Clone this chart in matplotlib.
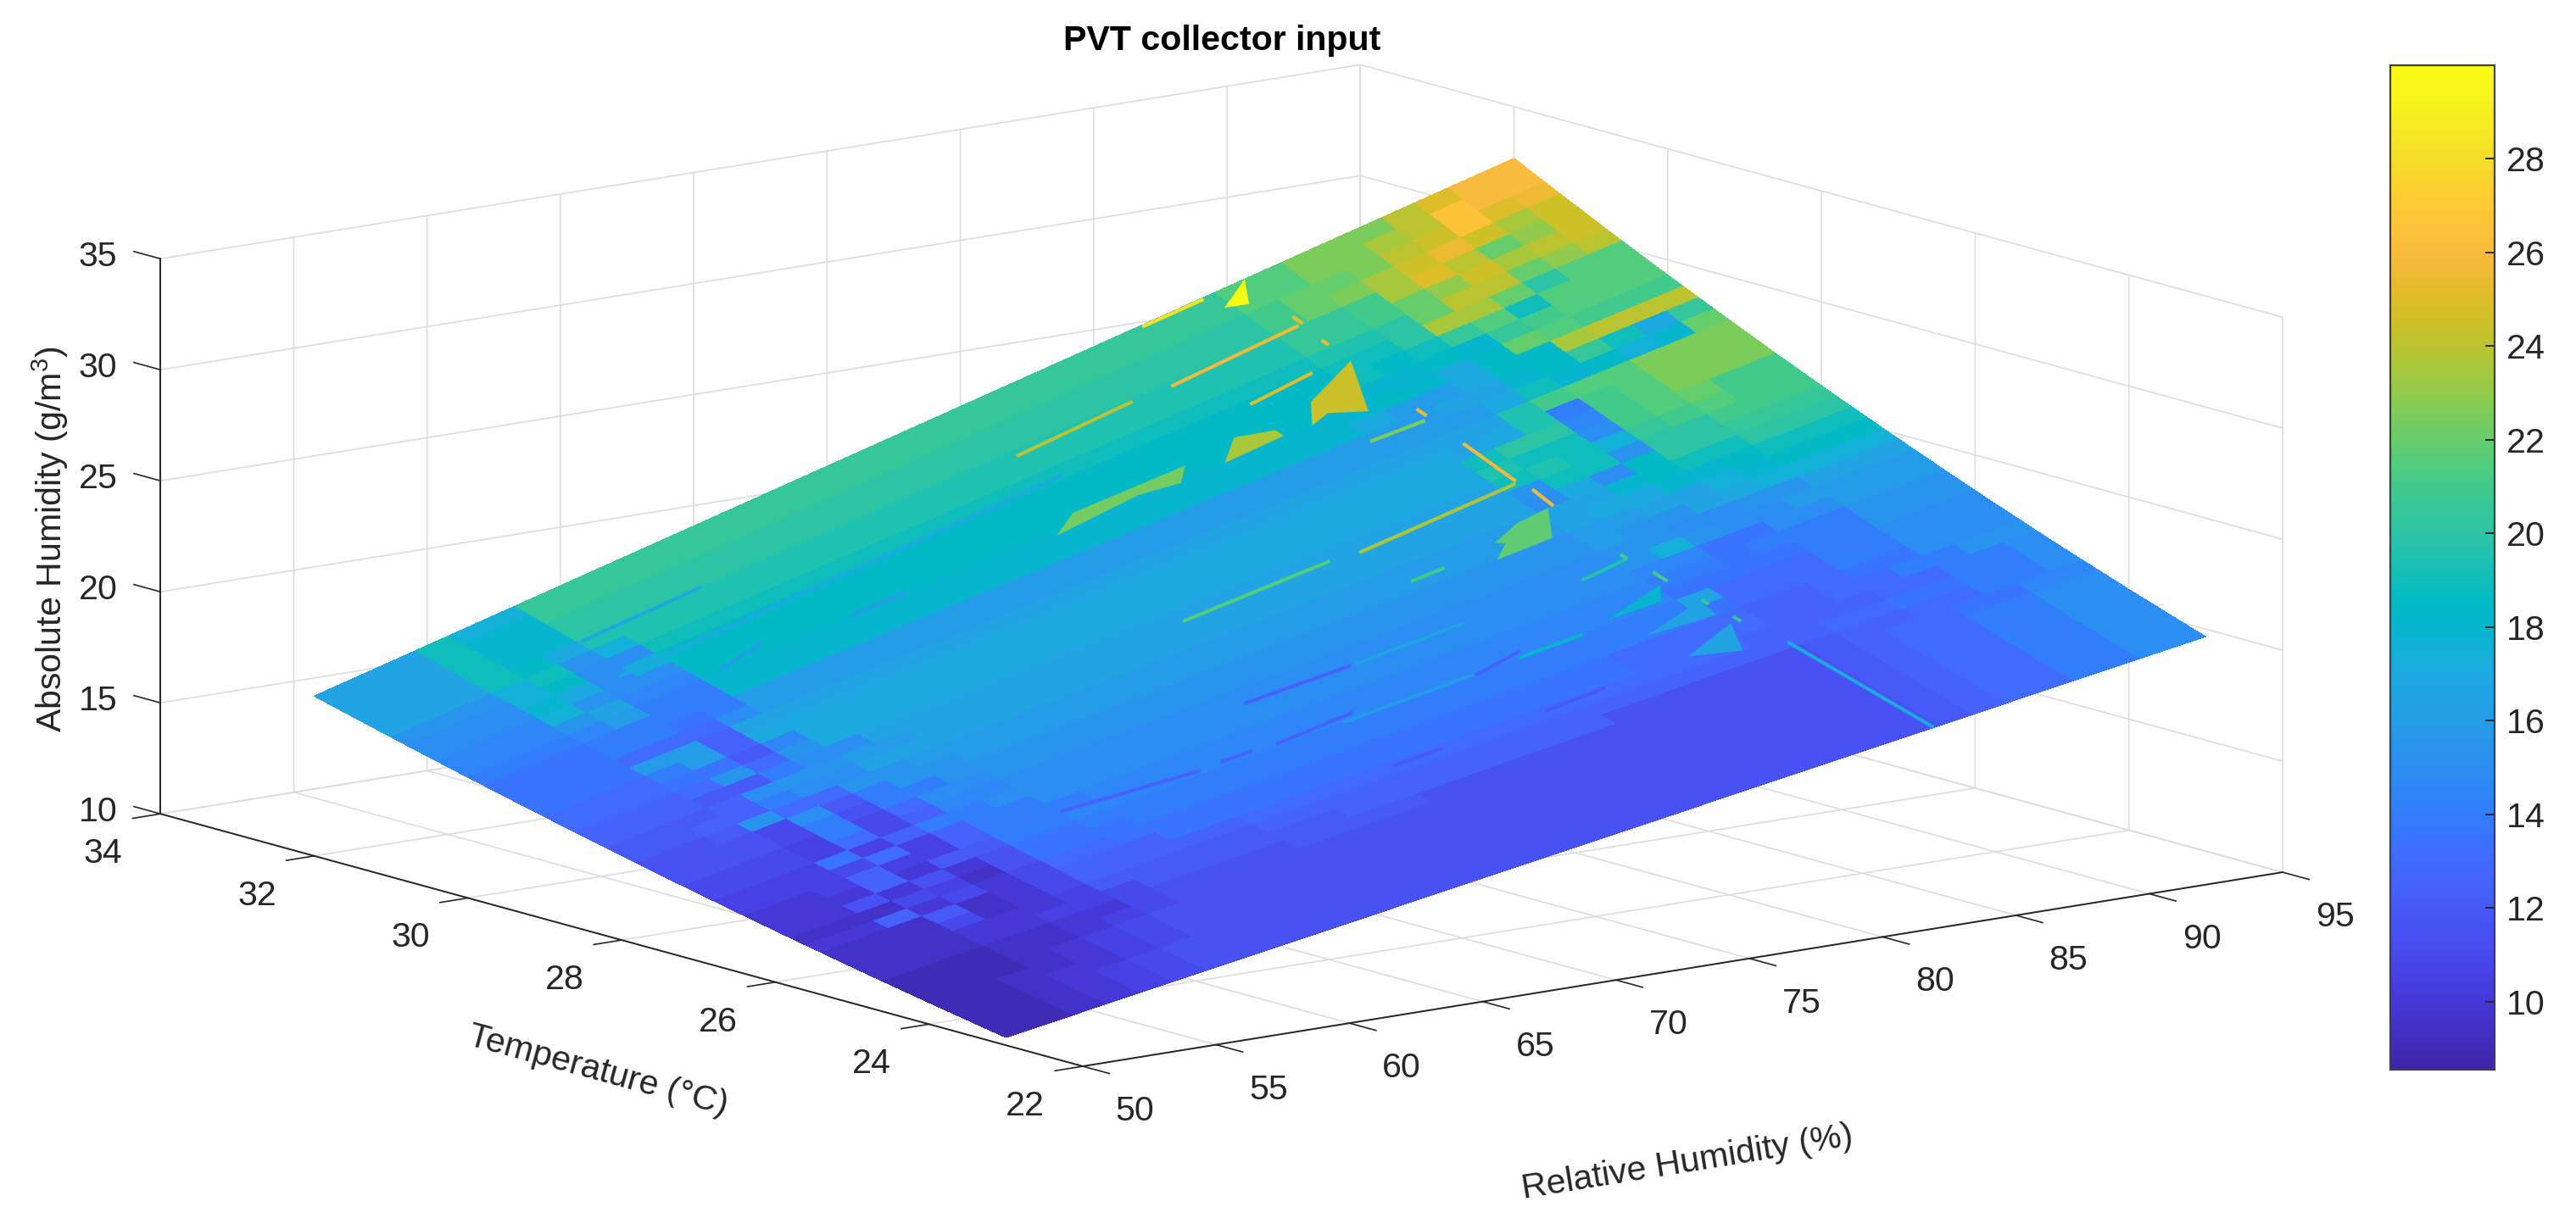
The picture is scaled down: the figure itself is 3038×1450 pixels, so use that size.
import numpy as np
import matplotlib
matplotlib.use("Agg")
import matplotlib.pyplot as plt
from matplotlib.cm import ScalarMappable
from matplotlib.colors import LinearSegmentedColormap, Normalize
from mpl_toolkits.mplot3d import proj3d
from mpl_toolkits.mplot3d.art3d import Poly3DCollection

plt.rcParams['font.family'] = ['Liberation Sans', 'DejaVu Sans']
plt.rcParams['mathtext.fontset'] = 'custom'
plt.rcParams['mathtext.rm'] = 'Liberation Sans'

# axis ticks
RH_TICKS = [50, 55, 60, 65, 70, 75, 80, 85, 90, 95]
TEMP_TICKS = [22, 24, 26, 28, 30, 32, 34]
AH_TICKS = [10, 15, 20, 25, 30, 35]
CBAR_TICKS = [10, 12, 14, 16, 18, 20, 22, 24, 26, 28]

# temperature rows of the surface, 23 to 32 C every 0.2
TEMP_NODES = [23.0, 23.2, 23.4, 23.6, 23.8, 24.0, 24.2, 24.4, 24.6, 24.8, 25.0, 25.2,
              25.4, 25.6, 25.8, 26.0, 26.2, 26.4, 26.6, 26.8, 27.0, 27.2, 27.4, 27.6,
              27.8, 28.0, 28.2, 28.4, 28.6, 28.8, 29.0, 29.2, 29.4, 29.6, 29.8, 30.0,
              30.2, 30.4, 30.6, 30.8, 31.0, 31.2, 31.4, 31.6, 31.8, 32.0]
# absolute humidity at saturation, per temperature row
AH_AT_SATURATION = [20.70, 20.94, 21.19, 21.44, 21.69, 21.94, 22.20, 22.46, 22.72, 22.98,
                    23.25, 23.52, 23.80, 24.07, 24.35, 24.63, 24.92, 25.21, 25.50, 25.79,
                    26.09, 26.38, 26.69, 26.99, 27.30, 27.61, 27.92, 28.24, 28.55, 28.88,
                    29.20, 29.53, 29.86, 30.19, 30.53, 30.86, 31.20, 31.55, 31.89, 32.24,
                    32.60, 32.95, 33.31, 33.67, 34.03, 34.40]
# relative humidity columns, 50 to 95 % every 1.25
RH_NODES = [50.0, 51.25, 52.5, 53.75, 55.0, 56.25, 57.5, 58.75, 60.0, 61.25, 62.5, 63.75,
            65.0, 66.25, 67.5, 68.75, 70.0, 71.25, 72.5, 73.75, 75.0, 76.25, 77.5, 78.75,
            80.0, 81.25, 82.5, 83.75, 85.0, 86.25, 87.5, 88.75, 90.0, 91.25, 92.5, 93.75, 95.0]

# colour value of each surface cell, one string per temperature row (coolest first)
# letter = value from 9 in steps of 0.5, number = column where that value stops
LEVELS = "abcdefghijklmnopqrstuvwxyzABCDEFGHIJKLMNOPQ"
COLOR_ROWS = [
    "a2 b3 c4 d5 e6 f28 g29 h30 i32 k34 m36",
    "a2 b3 c4 d5 e6 f28 g29 h30 i32 k34 m36",
    "a2 b3 c4 d5 e6 f28 g29 h30 i32 k34 m36",
    "a2 b3 c5 d6 e7 f28 g29 h30 i32 k34 m36",
    "a2 b4 c5 d6 e7 f28 g29 h30 i32 k34 m36",
    "a3 b4 c5 d6 e7 f28 g29 h30 i32 k34 m36",
    "a3 b5 c6 d7 e8 f28 g29 h30 i32 k34 m36",
    "a3 b5 c7 e8 f12 g16 f28 g29 h30 i32 j34 l36",
    "b3 c5 d7 e8 g14 h22 f28 g29 h31 i33 k35 m36",
    "b3 c6 d7 g12 h27 h29 i31 j33 k35 m36",
    "b3 e4 b5 c6 e7 h12 i27 h29 h31 i33 k35 m36",
    "b3 g4 b5 c6 e7 h10 j24 i27 i28 h30 i32 k34 n36",
    "c2 h3 c4 e5 c6 e7 i9 j24 i27 i28 h30 i31 j33 m36",
    "b3 e4 d5 b6 f7 j10 k27 j28 i29 i31 k33 m36",
    "c2 f3 c4 f5 c6 f7 j9 k27 p28 i29 i31 k33 m36",
    "c3 h4 c5 g7 k9 l27 j29 j31 k33 n36",
    "c2 d3 h4 d6 h7 k10 l27 k29 j30 k33 n36",
    "d3 e4 i5 d6 h7 k9 m27 l29 j31 m33 o36",
    "d3 j4 d5 h6 k8 m27 n28 r29 n30 m32 o36",
    "e3 d4 i5 e6 h7 l9 m27 n29 m31 n33 p36",
    "e3 d4 k5 e6 i7 m9 n27 o28 n30 p31 q32 r36",
    "f3 e4 k5 f6 k8 n27 o29 p31 r32 s33 t36",
    "f3 e4 m5 g6 k7 n9 o27 p28 q30 s32 t33 u36",
    "f2 g3 n4 i6 n8 o27 p29 s30 t31 u33 w36",
    "g2 h4 k5 m7 p27 m28 q29 m30 t31 w33 x36",
    "g3 h4 m5 n7 o9 p27 n28 u30 n31 w33 y36",
    "h3 g5 k6 m8 p27 u28 v29 u30 r31 x32 y33 z34 y36",
    "h3 i4 n5 i6 n7 q27 v28 u30 m31 y32 z33 A34 y36",
    "i3 j5 g6 l7 q27 u28 w30 l31 y32 z33 B36",
    "i3 k4 o5 h6 q27 p28 q29 v30 k31 y32 z33 B36",
    "j3 o5 h6 p27 p29 v30 y31 z33 B36",
    "j3 i6 m7 o27 o29 q30 u31 s32 t33 r34 s35 A36",
    "j3 k5 j6 k7 o28 p30 s31 t32 x33 u34 q35 x36",
    "j3 k7 s26 q27 o29 q30 t32 D33 E36",
    "k3 l4 o5 k7 s27 t28 s29 q30 t31 A32 z33 y36",
    "l3 n4 p5 l7 t27 s29 t30 s31 x32 y33 z36",
    "l3 r4 n5 m7 t27 u28 t29 u30 x31 z32 u33 z36",
    "m3 s4 q5 m6 r7 t27 u29 w30 D32 A33 w34 z36",
    "m3 r4 t5 m7 u27 v29 w30 A31 E33 A34 C35 E36",
    "n3 r4 u5 n6 r7 v27 x29 y30 A31 C32 F33 D34 E35 F36",
    "p3 u4 t5 q6 v27 x29 y30 D31 G32 E33 A34 C35 F36",
    "p3 u4 s6 w27 y28 A29 B30 D31 F32 H33 F34 D35 F36",
    "p3 u4 s6 w27 y28 A30 B31 E32 F33 J34 G35 H36",
    "p3 u4 s6 x27 z29 B31 D32 E33 J34 I36",
    "p3 u4 r6 x27 z29 B32 E33 G34 I36",
]

# isolated patches on the surface: relative humidity, temperature, value
PATCH_RH = [[84.7, 83.4, 82.4, 81.6, 82.4],
            [80.6, 80.6, 78.3, 79.4],
            [77.3, 76.6, 75.2, 71.9, 73.1],
            [84.2, 83.2, 81.1, 81.9, 81.7, 82.9],
            [84.9, 83.5, 84.2],
            [81.4, 84.0, 83.4],
            [81.7, 84.3, 84.2],
            [81.9, 84.2, 83.4]]
PATCH_TEMP = [[30.55, 29.87, 30.05, 29.98, 30.27],
              [30.11, 30.0, 29.97, 30.23],
              [30.14, 29.95, 30.02, 29.94, 30.14],
              [27.81, 27.41, 27.4, 27.57, 27.63, 27.77],
              [32.0, 31.78, 31.7],
              [26.07, 26.28, 26.06],
              [25.67, 25.88, 25.61],
              [25.19, 25.43, 25.0]]
PATCH_VALUE = [24.4, 23.6, 22.3, 21.8, 30.0, 18.0, 16.5, 16.5]

# thin streaks on the surface: start and end, value
STREAK_RH = [(73.8, 78.3), (79.7, 84.65), (80.9, 83.4), (78.2, 84.3), (71.6, 77.2), (84.5, 84.4),
             (84.5, 84.4), (82.4, 84.4), (82.3, 84.2), (84.3, 84.3), (84.2, 84.2), (84.5, 84.5),
             (84.4, 84.4), (84.8, 84.8), (84.8, 84.8), (84.7, 84.7), (84.6, 84.6), (81.0, 83.3),
             (69.8, 73.7), (68.9, 71.9), (76.2, 78.2), (73.9, 77.9), (77.9, 80.3), (71.3, 76.2),
             (61.3, 66.1), (66.9, 68.1), (70.7, 72.5), (76.4, 78.7), (78.3, 79.6), (64.4, 66.5),
             (59.5, 61.5), (57.6, 62.2), (57.1, 74.2)]
STREAK_TEMP = [(31.12, 31.17), (31.15, 31.21), (30.54, 30.6), (28.18, 28.27), (28.19, 28.22), (29.02, 28.3),
               (28.12, 27.81), (29.5, 29.48), (26.72, 26.78), (26.48, 26.29), (26.87, 26.78), (25.51, 25.4),
               (25.88, 25.79), (23.0, 24.9), (31.34, 31.21), (30.93, 30.84), (29.66, 29.53), (31.98, 31.98),
               (26.77, 26.74), (26.04, 26.09), (25.98, 26.09), (26.74, 26.74), (26.0, 26.0), (26.0, 26.0),
               (26.21, 26.06), (26.07, 26.07), (25.13, 25.13), (25.14, 25.16), (27.55, 27.56), (30.02, 30.02),
               (30.02, 30.15), (31.17, 31.2), (30.5, 30.65)]
STREAK_VALUE = [24.0, 25.7, 25.0, 23.7, 21.5, 25.7, 25.7, 22.5, 19.5, 21.0, 21.0, 20.0,
                20.5, 17.0, 25.5, 25.5, 25.5, 28.0, 12.5, 12.5, 12.5, 16.5, 18.0, 16.0,
                12.5, 12.5, 12.0, 12.0, 21.0, 16.0, 16.0, 17.0, 17.0]

PARULA = [(0.2422, 0.1504, 0.6603), (0.2578, 0.1818, 0.7511), (0.2706, 0.2147, 0.8364),
          (0.2783, 0.2559, 0.8991), (0.2813, 0.3006, 0.9414), (0.2795, 0.3447, 0.9717),
          (0.2699, 0.3892, 0.9906), (0.2440, 0.4358, 0.9988), (0.1963, 0.4847, 0.9892),
          (0.1786, 0.5289, 0.9682), (0.1687, 0.5703, 0.9359), (0.1460, 0.6091, 0.9079),
          (0.1248, 0.6459, 0.8883), (0.0952, 0.6798, 0.8598), (0.0297, 0.7082, 0.8163),
          (0.0067, 0.7312, 0.7660), (0.0964, 0.7500, 0.7120), (0.1717, 0.7670, 0.6554),
          (0.2161, 0.7843, 0.5923), (0.2906, 0.7973, 0.5188), (0.3909, 0.8029, 0.4354),
          (0.5044, 0.7993, 0.3480), (0.6174, 0.7876, 0.2612), (0.7242, 0.7698, 0.1910),
          (0.8203, 0.7498, 0.1535), (0.9035, 0.7330, 0.1774), (0.9728, 0.7298, 0.2394),
          (0.9970, 0.7659, 0.2199), (0.9892, 0.8136, 0.1885), (0.9676, 0.8639, 0.1643),
          (0.9597, 0.9135, 0.1423), (0.9691, 0.9606, 0.1064), (0.9769, 0.9839, 0.0805)]

W, H = 3038, 1450
TEXT_COLOR = '#262626'
GRID_COLOR = '#dddddd'
FONT_SIZE = 14.8


def decode_row(row):
    cells = []
    start = 0
    for token in row.split():
        stop = int(token[1:])
        cells += [9 + 0.5 * LEVELS.index(token[0])] * (stop - start)
        start = stop
    return cells


def surface_height(rh, temp):
    return np.interp(temp, TEMP_NODES, AH_AT_SATURATION) * np.asarray(rh) / 100


parula = LinearSegmentedColormap.from_list('parula', PARULA, N=256)
norm = Normalize(8.55, 30.0)

rh_grid, temp_grid = np.meshgrid(RH_NODES, TEMP_NODES)
ah_grid = np.outer(AH_AT_SATURATION, RH_NODES) / 100
cell_values = np.array([decode_row(r) for r in COLOR_ROWS])

fig = plt.figure(figsize=(W / 200, H / 200), dpi=200, facecolor='white')
ax = fig.add_axes([0, 0, 1, 1], projection='3d', computed_zorder=False, proj_type='ortho')
ax.view_init(elev=12.15, azim=-127.55)
ax.set_box_aspect((1785, 1785, 670))
ax.set_xlim(50, 95, view_margin=0)
ax.set_ylim(22, 34, view_margin=0)
ax.set_zlim(10, 35, view_margin=0)
ax.patch.set_alpha(0)

ax.plot_surface(rh_grid, temp_grid, ah_grid, facecolors=parula(norm(cell_values)), rstride=1, cstride=1,
                linewidth=0, antialiased=False, shade=False, zorder=2)

for rh, temp, value in zip(PATCH_RH, PATCH_TEMP, PATCH_VALUE):
    poly = Poly3DCollection([list(zip(rh, temp, surface_height(rh, temp)))], facecolors=[parula(norm(value))],
                            linewidths=0, zorder=3)
    ax.add_collection3d(poly)

for rh, temp, value in zip(STREAK_RH, STREAK_TEMP, STREAK_VALUE):
    ax.plot(rh, temp, surface_height(rh, temp), color=parula(norm(value)), lw=1.5, zorder=4,
            solid_capstyle='butt')

ax.set_xticks(RH_TICKS)
ax.set_yticks(TEMP_TICKS)
ax.set_zticks(AH_TICKS)
ax.tick_params(axis='both', labelsize=FONT_SIZE, labelcolor=TEXT_COLOR, colors=TEXT_COLOR)
ax.tick_params(axis='x', pad=9)
ax.tick_params(axis='y', pad=7)
ax.tick_params(axis='z', pad=6)

# z ticks point along the temperature axis in the reference
ax.zaxis._get_tickdir = lambda position: 1

# x and y ticks stick out of the box, so they go against mplot3d's sign
for axis, factor in ((ax.xaxis, -0.36), (ax.yaxis, -0.29), (ax.zaxis, 0.36)):
    axis.set_pane_color((1, 1, 1, 0))
    axis.pane.set_edgecolor(GRID_COLOR)
    axis.pane.set_linewidth(0.6)
    axis.line.set_color(TEXT_COLOR)
    axis.line.set_linewidth(0.7)
    axis._axinfo['grid'].update(color=GRID_COLOR, linewidth=0.6)
    axis._axinfo['tick'].update(inward_factor=0, outward_factor=factor, linewidth={True: 0.6, False: 0.6},
                                color=TEXT_COLOR)

for tick in ax.xaxis.get_major_ticks():
    tick.label1.set_ha('left')
for tick in ax.yaxis.get_major_ticks():
    tick.label1.set_ha('right')
for tick in ax.zaxis.get_major_ticks():
    tick.label1.set_va('center')


def place(cx, cy, size):
    ax.set_position([(cx - size / 2) / W, (cy - size / 2) / H, size / W, size / H])
    fig.canvas.draw()


def to_pixel(x, y, z):
    px, py, _ = proj3d.proj_transform(x, y, z, ax.get_proj())
    return ax.transData.transform((px, py))


# size and shift the 3d box so its floor corners land where the reference has them
size = 3000
place(W / 2, H / 2, size)
size *= 1415 / (to_pixel(95, 22, 10)[0] - to_pixel(50, 22, 10)[0])
place(W / 2, H / 2, size)
corner = to_pixel(50, 22, 10)
place(W / 2 + 1277 - corner[0], H / 2 + (H - 1258) - corner[1], size)

fig.text(1441 / W, 1 - 48 / H, 'PVT collector input', ha='center', va='center', fontsize=FONT_SIZE,
         fontweight='bold', color='black')
fig.text(1990 / W, 1 - 1372 / H, 'Relative Humidity (%)', ha='center', va='center', rotation=9.2,
         rotation_mode='anchor', fontsize=FONT_SIZE, color=TEXT_COLOR)
fig.text(705 / W, 1 - 1263 / H, 'Temperature (°C)', ha='center', va='center', rotation=-15.3,
         rotation_mode='anchor', fontsize=FONT_SIZE, color=TEXT_COLOR)
fig.text(59 / W, 1 - 636 / H, r'Absolute Humidity (g/m$^{3}$)', ha='center', va='center', rotation=90,
         rotation_mode='anchor', fontsize=FONT_SIZE, color=TEXT_COLOR)

cax = fig.add_axes([2819 / W, 1 - 1262 / H, 123 / W, 1185 / H])
bar = fig.colorbar(ScalarMappable(norm=norm, cmap=parula), cax=cax)
bar.set_ticks(CBAR_TICKS)
bar.ax.tick_params(direction='in', length=4, width=0.7, labelsize=FONT_SIZE, labelcolor=TEXT_COLOR,
                   color=TEXT_COLOR, pad=5)
bar.outline.set_linewidth(0.8)
bar.outline.set_edgecolor('#404040')

fig.savefig('out.png', dpi=200)
